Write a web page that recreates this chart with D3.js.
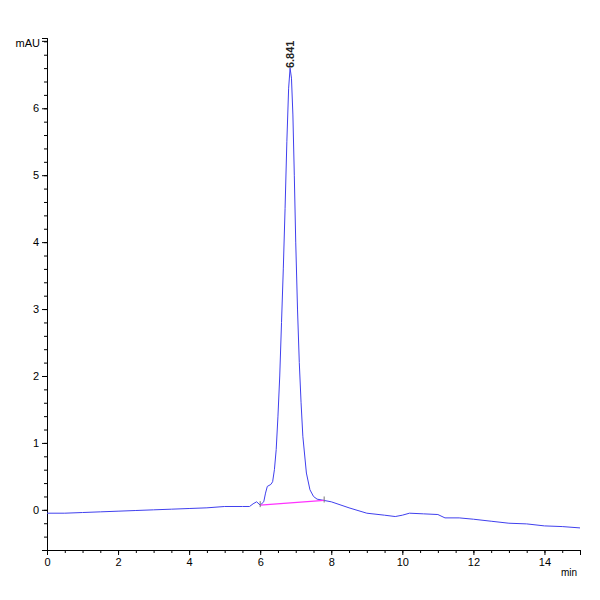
<!DOCTYPE html>
<html>
<head>
<meta charset="utf-8">
<script src="https://cdn.jsdelivr.net/npm/d3@7"></script>
<style>
  body { margin: 0; background: #fff; }
  text { font-family: "Liberation Sans", Arial, sans-serif; }
</style>
</head>
<body>
<svg id="chart" width="600" height="600"></svg>
<script>
// Chromatogram signal, [min, mAU]
var signal = [
  [0, -0.05], [0.5, -0.05], [1, -0.04], [1.5, -0.03], [2, -0.02], [2.5, -0.01], [3, 0.0],
  [3.5, 0.01], [4, 0.02], [4.5, 0.03], [5, 0.05], [5.5, 0.05], [5.7, 0.05], [5.8, 0.09],
  [5.9, 0.12], [6.0, 0.07], [6.1, 0.12], [6.15, 0.25], [6.2, 0.35], [6.3, 0.38], [6.35, 0.42],
  [6.4, 0.6], [6.45, 0.9], [6.5, 1.4], [6.55, 2.0], [6.6, 2.8], [6.65, 3.6], [6.7, 4.5],
  [6.75, 5.5], [6.8, 6.3], [6.841, 6.6], [6.88, 6.45], [6.92, 5.9], [6.96, 5.0], [7.0, 4.0],
  [7.05, 3.0], [7.1, 2.2], [7.15, 1.6], [7.2, 1.1], [7.3, 0.55], [7.4, 0.3], [7.5, 0.2],
  [7.6, 0.16], [7.8, 0.14], [8.0, 0.12], [8.5, 0.03], [9.0, -0.05], [9.5, -0.08],
  [9.8, -0.1], [10.0, -0.08], [10.2, -0.05], [10.6, -0.06], [11.0, -0.07], [11.2, -0.12],
  [11.6, -0.12], [12.0, -0.14], [12.5, -0.17], [13.0, -0.2], [13.5, -0.21], [14.0, -0.24],
  [14.5, -0.25], [15.0, -0.27]
];
var baseline = [[6.0, 0.07], [7.8, 0.14]];
var peakTime = 6.841;
var peakHeight = 6.6;
var xTicks = [0, 2, 4, 6, 8, 10, 12, 14];
var yTicks = [0, 1, 2, 3, 4, 5, 6];

var svg = d3.select('#chart');
var x = d3.scaleLinear().domain([0, 15]).range([47, 580]);
var y = d3.scaleLinear().domain([-0.6, 7.05]).range([550, 38]);

// Axes
var xAxis = svg.append('g').attr('transform', 'translate(0,550)');
xAxis.call(d3.axisBottom(x).tickValues(xTicks).tickFormat(d3.format('d')).tickSize(5));
xAxis.append('g').call(d3.axisBottom(x).tickValues(d3.range(0, 15.01, 0.5)).tickFormat('').tickSize(3));
var yAxis = svg.append('g').attr('transform', 'translate(47,0)');
yAxis.call(d3.axisLeft(y).tickValues(yTicks).tickFormat(d3.format('d')).tickSize(5));
yAxis.append('g').call(d3.axisLeft(y).tickValues(d3.range(-0.6, 7.01, 0.2)).tickFormat('').tickSize(3));
svg.selectAll('.domain').attr('stroke', '#000');
svg.selectAll('.tick text').attr('font-size', 11).attr('fill', '#000');

svg.append('text').attr('x', 40).attr('y', 47).attr('text-anchor', 'end')
  .attr('font-size', 11).text('mAU');
svg.append('line').attr('x1', 42).attr('x2', 47).attr('y1', y(7.0)).attr('y2', y(7.0)).attr('stroke', '#000');
svg.append('text').attr('x', 577).attr('y', 576).attr('text-anchor', 'end')
  .attr('font-size', 10).text('min');

// Signal trace
var line = d3.line().x(function(d) { return x(d[0]); }).y(function(d) { return y(d[1]); });
svg.append('path').datum(signal).attr('d', line)
  .attr('fill', 'none').attr('stroke', '#4040ee').attr('stroke-width', 1);

// Integration baseline
svg.append('path').datum(baseline).attr('d', line)
  .attr('fill', 'none').attr('stroke', '#ff33ff').attr('stroke-width', 1.2);
baseline.forEach(function(d) {
  svg.append('line').attr('x1', x(d[0])).attr('x2', x(d[0]))
    .attr('y1', y(d[1]) - 4).attr('y2', y(d[1]) + 2).attr('stroke', '#777');
});

// Peak label
svg.append('text')
  .attr('transform', 'translate(' + (x(peakTime) + 4) + ',' + (y(peakHeight)) + ') rotate(-90)')
  .attr('font-size', 11).attr('font-weight', 'bold').attr('fill', '#222').text('6.841');
</script>
</body>
</html>
